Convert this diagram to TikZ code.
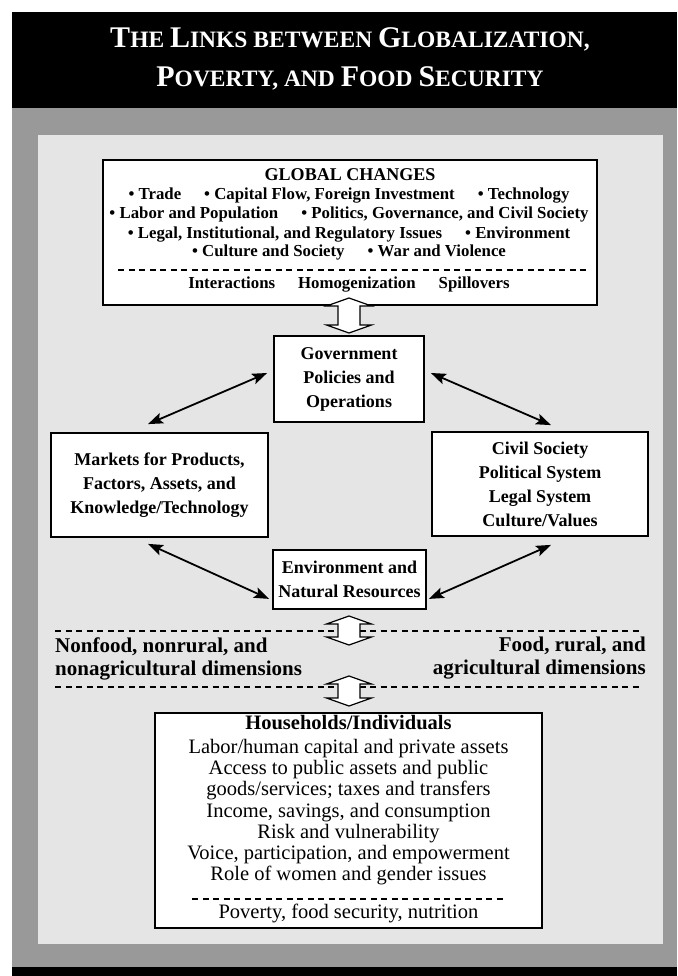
\documentclass[tikz,border=0pt]{standalone}
\usepackage{fontspec}
\setmainfont{Liberation Serif}
\usetikzlibrary{arrows.meta}
\definecolor{framegray}{HTML}{999999}
\definecolor{panelgray}{HTML}{E5E5E5}
\newcommand\tcapB[1]{{\fontsize{30}{30}\selectfont #1}}
\newcommand\tcapS[1]{{\fontsize{23.5}{30}\selectfont #1}}
\newcommand\hollowarrow[3]{\draw[hollow] (#1,#2) -- (#1+22.5,#2+8) -- (#1+11,#2+8) -- (#1+11,#3-8) -- (#1+22.5,#3-8) -- (#1,#3) -- (#1-22.5,#3-8) -- (#1-11,#3-8) -- (#1-11,#2+8) -- (#1-22.5,#2+8) -- cycle;}
\begin{document}
\begin{tikzpicture}[x=1pt,y=-1pt,
  box/.style={draw=black, line width=1.8pt, fill=white, inner sep=0pt, align=center},
  boxtxt/.style={font=\bfseries\fontsize{18}{24}\selectfont},
  gtxt/.style={inner sep=0pt, text height=0.69em, text depth=0.22em, font=\bfseries\fontsize{16.8}{18}\selectfont},
  htxt/.style={inner sep=0pt, text height=0.69em, text depth=0.22em, font=\fontsize{20.5}{22}\selectfont},
  dimtxt/.style={inner sep=0pt, font=\bfseries\fontsize{21}{23}\selectfont},
  dashline/.style={line width=1.3pt, dash pattern=on 6pt off 4.5pt},
  dbl/.style={{Stealth[length=15pt,width=11pt,inset=3pt]}-{Stealth[length=15pt,width=11pt,inset=3pt]}, line width=1.8pt},
  hollow/.style={draw=black, fill=white, line width=1.2pt, line join=miter}]
\useasboundingbox (0,0) rectangle (677,976);
% background panels
\fill[white] (0,0) rectangle (677,976);
\fill[black] (12,12) rectangle (677,108);
\fill[framegray] (12,108) rectangle (677,967);
\fill[black] (12,967) rectangle (677,976);
\fill[panelgray] (38,135) rectangle (663,944);
% title
\node[anchor=base, inner sep=0pt, text=white, font=\bfseries] (t1) at (350,48)
  {\tcapB{T}\tcapS{HE }\tcapB{L}\tcapS{INKS BETWEEN }\tcapB{G}\tcapS{LOBALIZATION,}};
\node[anchor=base, inner sep=0pt, text=white, font=\bfseries] (t2) at (350,87)
  {\tcapB{P}\tcapS{OVERTY, AND }\tcapB{F}\tcapS{OOD }\tcapB{S}\tcapS{ECURITY}};
% boxes
\node[box, minimum width=494pt, minimum height=145pt] (glob) at (350,232.5) {};
\node[box, boxtxt, minimum width=150pt, minimum height=86pt] (gov) at (349,379)
  {Government\\Policies and\\Operations};
\node[box, boxtxt, minimum width=217pt, minimum height=104pt] (mkt) at (159.5,485)
  {Markets for Products,\\Factors, Assets, and\\Knowledge/Technology};
\node[box, boxtxt, minimum width=216pt, minimum height=104pt] (civ) at (540,484)
  {Civil Society\\Political System\\Legal System\\Culture/Values};
\node[box, boxtxt, minimum width=153pt, minimum height=59pt] (env) at (349.5,579.5)
  {Environment and\\Natural Resources};
\node[box, minimum width=387pt, minimum height=215pt] (hh) at (348.5,820.5) {};
% global changes text
\node[gtxt, font=\bfseries\fontsize{18}{20}\selectfont] (gc) at (350,178) {GLOBAL CHANGES};
\node[gtxt] (g1) at (349,197.5) {• Trade\hspace{23pt}• Capital Flow, Foreign Investment\hspace{23pt}• Technology};
\node[gtxt] (g2) at (349,216) {• Labor and Population\hspace{23pt}• Politics, Governance, and Civil Society};
\node[gtxt] (g3) at (349,236) {• Legal, Institutional, and Regulatory Issues\hspace{23pt}• Environment};
\node[gtxt] (g4) at (349,254) {• Culture and Society\hspace{23pt}• War and Violence};
\draw[dashline] (118,270) -- (588,270);
\node[gtxt] (g5) at (349,286) {Interactions\hspace{23pt}Homogenization\hspace{23pt}Spillovers};
% dimensions
\draw[dashline] (55,631) -- (643,631);
\draw[dashline] (55,687) -- (643,687);
\node[dimtxt, anchor=west, align=left] (nonfood) at (55,658.5)
  {Nonfood, nonrural, and\\nonagricultural dimensions};
\node[dimtxt, anchor=east, align=right] (food) at (646,658.5)
  {Food, rural, and\\agricultural dimensions};
% households text
\node[htxt, font=\bfseries\fontsize{20.5}{22}\selectfont] (h0) at (348.5,727) {Households/Individuals};
\node[htxt] (h1) at (348.5,751) {Labor/human capital and private assets};
\node[htxt] (h2) at (348.5,772) {Access to public assets and public};
\node[htxt] (h3) at (348.5,793) {goods/services; taxes and transfers};
\node[htxt] (h4) at (348.5,815) {Income, savings, and consumption};
\node[htxt] (h5) at (348.5,836) {Risk and vulnerability};
\node[htxt] (h6) at (348.5,857) {Voice, participation, and empowerment};
\node[htxt] (h7) at (348.5,878) {Role of women and gender issues};
\draw[dashline] (192,899) -- (505,899);
\node[htxt] (h8) at (348.5,916) {Poverty, food security, nutrition};
% double-headed arrows
\draw[dbl] ([shift={(-6,-6)}]gov.west) -- ([shift={(-11.5,-8)}]mkt.north);
\draw[dbl] ([shift={(6,-6)}]gov.east) -- ([shift={(11,-6)}]civ.north);
\draw[dbl] ([shift={(-11.5,6)}]mkt.south) -- ([shift={(-3,-11)}]env.south west);
\draw[dbl] ([shift={(11,8)}]civ.south) -- ([shift={(2,-11)}]env.south east);
% hollow block arrows
\hollowarrow{349}{298}{333}
\hollowarrow{349}{616}{645}
\hollowarrow{349}{676}{706}
\end{tikzpicture}
\end{document}
